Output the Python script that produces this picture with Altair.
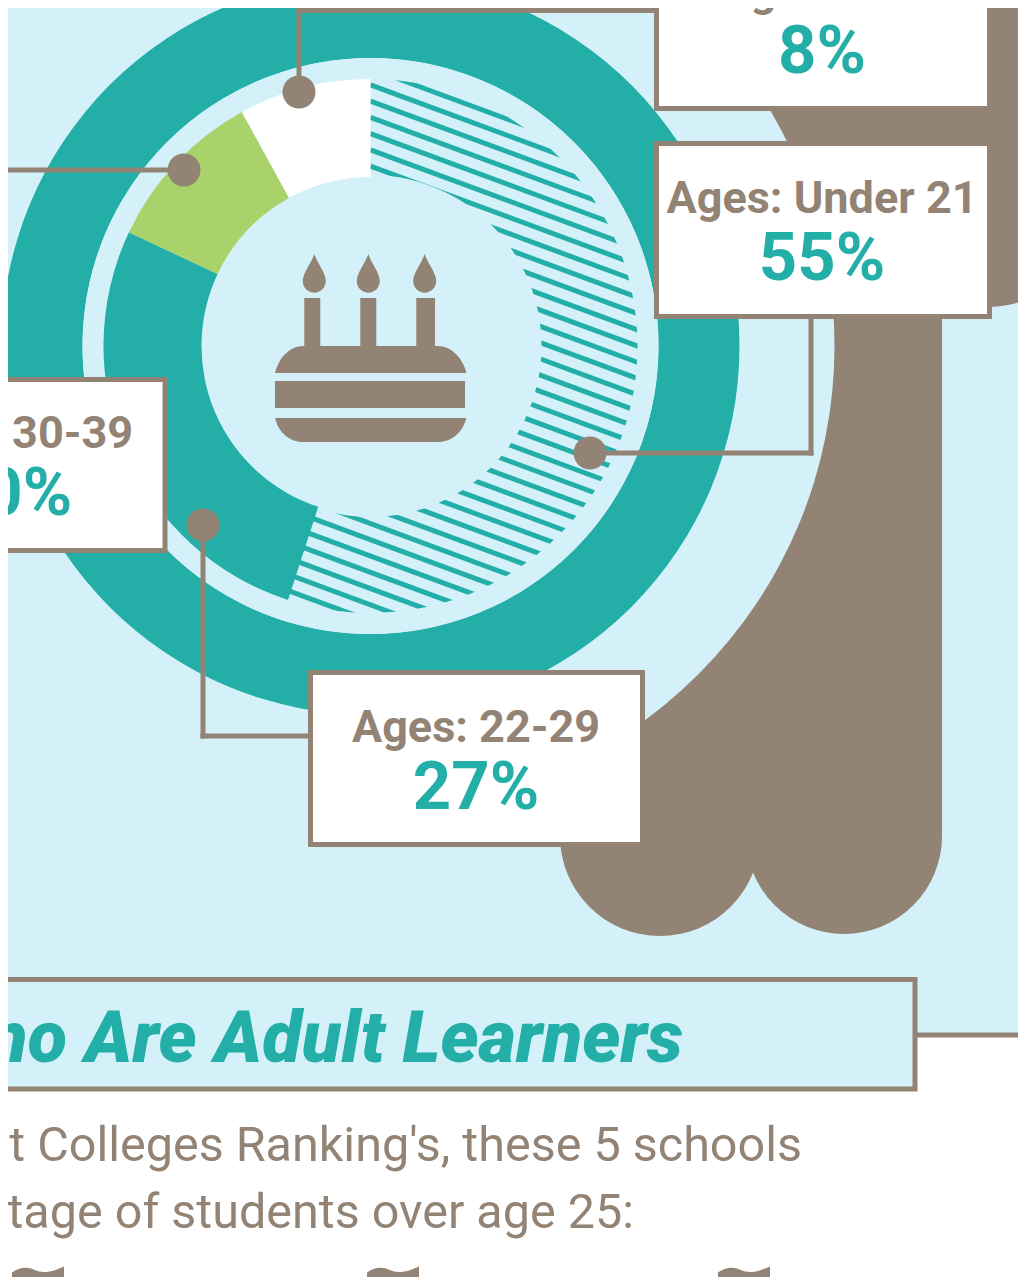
import numpy as np
import pandas as pd
import altair as alt

# ---- chart values ----
AGE_GROUPS = ["Ages: Under 21", "Ages: 22-29", "Ages: 30-39", "Ages: 40+"]
SHARES = [55, 27, 10, 8]
SLICE_FILLS = ["transparent", "#23AFA8", "#AAD26A", "#FFFFFF"]

TITLE = "Who Are Adult Learners"
BODY_LINES = ["Best Colleges Ranking's, these 5 schools", "percentage of students over age 25:"]

# ---- palette ----
TEAL = "#23AFA8"
TAUPE = "#928375"
SKY = "#D4F1FA"
WHITE = "#FFFFFF"
FONT = "Roboto"

# ---- page layout, in window pixels; the page margin is 8 ----
M = 8
W, H = 1018, 1277   # the page's container holds 1010 px of width without shrinking the chart
CX, CY = 370.5, 346
xs = alt.Scale(domain=[M, W], range=[0, W - M], nice=False, zero=False)
ys = alt.Scale(domain=[M, H], range=[0, H - M], nice=False, zero=False)
BOXES = [  # label index, left, right, top, bottom (stroke centre), text centre, label baseline
    (3, 656.5, 989.5, -60, 108.5, 822, 6),
    (0, 656.5, 989.5, 143.5, 316.5, 822, 213),
    (2, -170, 165, 379.5, 550.5, 9, 448),
    (1, 310.5, 642.5, 672.5, 844.5, 476, 742),
]
LEADERS = [  # polyline runs
    [(299, 92), (299, 10.5), (655, 10.5)],
    [(184, 170), (0, 170)],
    [(203, 525), (203, 736), (308, 736)],
    [(590, 453), (811, 453), (811, 320)],
]
DOTS = [(299, 92), (184, 170), (203, 525), (590, 453)]
ORNAMENTS = [12, 367, 718]


def X(f="x"):
    return alt.X(f"{f}:Q", scale=xs, axis=None)


def Y(f="y"):
    return alt.Y(f"{f}:Q", scale=ys, axis=None)


def rect(x0, x1, y0, y1, fill, **kw):
    d = pd.DataFrame({"x": [x0], "x2": [x1], "y": [y0], "y2": [y1]})
    return alt.Chart(d).mark_rect(fill=fill, **kw).encode(
        x=X(), x2=alt.X2("x2"), y=Y(), y2=alt.Y2("y2"))


def disc(cx, cy, r, fill, inner=0, t0=0.0, t1=2 * np.pi):
    d = pd.DataFrame({"a": [0]})
    return alt.Chart(d).mark_arc(fill=fill, radius=r, radius2=inner, theta=t0, theta2=t1).encode(
        x=alt.value(cx - M), y=alt.value(cy - M))


def seg(rows, color, width, cap="butt"):
    d = pd.DataFrame(rows, columns=["x", "y", "x2", "y2"])
    return alt.Chart(d).mark_rule(color=color, strokeWidth=width, strokeCap=cap).encode(
        x=X(), y=Y(), x2=alt.X2("x2"), y2=alt.Y2("y2"))


def glyph(px, py, path):
    d = pd.DataFrame({"x": [px], "y": [py]})
    return alt.Chart(d).mark_point(shape=path, size=4, filled=True, fill=TAUPE,
                                   strokeWidth=0, opacity=1).encode(x=X(), y=Y())


def label(px, py, txt, size, color, weight="bold", align="center", style="normal"):
    d = pd.DataFrame({"x": [px], "y": [py], "t": [txt]})
    return alt.Chart(d).mark_text(font=FONT, fontSize=size, fontWeight=weight, fontStyle=style,
                                  color=color, align=align, baseline="alphabetic").encode(
        x=X(), y=Y(), text="t:N")


# hatch stripes of the largest slice, cut to the ring
def hatch():
    slope, step, rows = 0.37, 16.25, []
    ts = np.arange(270, 660, 0.25)
    for k in range(-2, 36):
        ya = 85 + k * step
        yy = ya + (ts - 371) * slope
        dx, dy = ts - CX, yy - CY
        r = np.hypot(dx, dy)
        ang = np.degrees(np.arctan2(dx, -dy)) % 360
        inside = (r > 165) & (r < 272) & (ang < 204)
        run = None
        for i, ok in enumerate(inside):
            if ok and run is None:
                run = i
            if run is not None and (not ok or i == len(ts) - 1):
                rows.append((ts[run], yy[run], ts[i], yy[i]))
                run = None
    return seg(rows, TEAL, 5)


slices = pd.DataFrame({"group": AGE_GROUPS, "share": SHARES, "rank": range(4)})
donut = alt.Chart(slices).mark_arc(radius=267, radius2=169).encode(
    theta=alt.Theta("share:Q", stack=True),
    order=alt.Order("rank:O"),
    fill=alt.Fill("group:N", scale=alt.Scale(domain=AGE_GROUPS, range=SLICE_FILLS), legend=None),
    x=alt.value(CX - M), y=alt.value(CY - M))

layers = [
    rect(-10, W + 10, -10, 1035, SKY),
    # trunk and canopy behind the sky-coloured disc
    rect(560, 942, -10, 836, TAUPE),
    rect(942, W + 10, -10, 206, TAUPE),
    disc(660, 836, 100, TAUPE),
    disc(844, 836, 98, TAUPE),
    disc(988, 206, 101, TAUPE),
    disc(CX, CY, 464, SKY),
    disc(CX, CY, 369, TEAL, inner=288),
    hatch(),
    disc(CX, CY, 171, SKY, t1=3.6),
    disc(CX, CY, 288, SKY, inner=267, t1=3.6),
    disc(CX, CY, 288, SKY, inner=267, t0=3.4, t1=2 * np.pi),
    donut,
]

# cake icon
layers += [
    rect(304.3, 320.3, 298, 350, TAUPE),
    rect(360.3, 376.3, 298, 350, TAUPE),
    rect(416.3, 435, 298, 350, TAUPE),
    glyph(370.5, 360, "M-95.5,13 C-92,-2 -81,-14 -67,-14 L67,-14 C81,-14 92,-2 96,13 Z"),
    rect(275, 465, 381, 408, TAUPE),
    glyph(370.5, 430, "M-95.5,-12 L96,-12 C92,2 82,12 67,12 L-67,12 C-82,12 -92,2 -95.5,-12 Z"),
]
for fx in (314.3, 368.3, 424.7):
    layers.append(glyph(fx, 281, "M0,-27 C3,-18 11.5,-8 11.5,0 C11.5,7 6,11.7 0,11.7 C-6,11.7 -11.5,7 -11.5,0 C-11.5,-8 -3,-18 0,-27 Z"))

# leaders, dots, boxes, labels
rows = []
for run in LEADERS:
    for a, b in zip(run[:-1], run[1:]):
        rows.append((a[0], a[1], b[0], b[1]))
layers.append(seg(rows, TAUPE, 5, cap="square"))
for px, py in DOTS:
    layers.append(disc(px, py, 16.5, TAUPE))
for idx, x0, x1, y0, y1, tc, base in BOXES:
    layers.append(rect(x0, x1, y0, y1, WHITE, stroke=TAUPE, strokeWidth=5))
    layers.append(label(tc, base, AGE_GROUPS[idx], 45, TAUPE))
    layers.append(label(tc, base + 67, f"{SHARES[idx]}%", 67, TEAL))

# section heading and copy
layers += [
    seg([(917, 1035, W + 10, 1035)], TAUPE, 5),
    rect(-10, 915, 979.5, 1089, SKY, stroke=TAUPE, strokeWidth=5),
    label(683, 1062, TITLE, 72.3, TEAL, weight=900, align="right", style="italic"),
    label(802, 1161, BODY_LINES[0], 48.5, TAUPE, weight="normal", align="right"),
    label(634, 1228, BODY_LINES[1], 48.5, TAUPE, weight="normal", align="right"),
]
for ox in ORNAMENTS:
    layers.append(glyph(ox, 1277, "M0,-4.5 C6,-9 13,-10.5 19,-8.5 C27,-5 34,-2 52,-10.5 L52,4 L0,4 Z"))

chart = alt.layer(*layers).properties(
    width=W - M, height=H - M, padding=0, background=WHITE,
    autosize=alt.AutoSizeParams(type="none"),
).configure_view(stroke=None)

chart.save("out.html", embed_options={"renderer": "svg", "actions": False})
